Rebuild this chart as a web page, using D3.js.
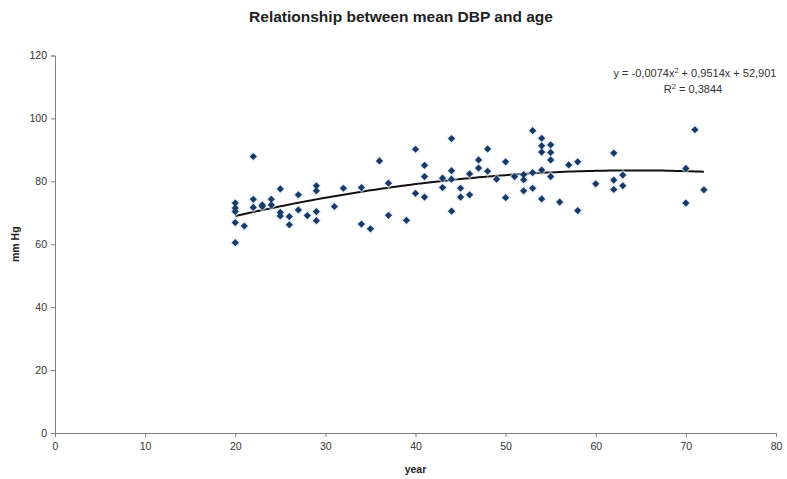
<!DOCTYPE html>
<html>
<head>
<meta charset="utf-8">
<script src="https://cdn.jsdelivr.net/npm/d3@7"></script>
<style>
  html, body { margin: 0; padding: 0; background: #fff; }
  svg { display: block; font-family: "Liberation Sans", Arial, sans-serif; }
</style>
</head>
<body>
<svg id="chart" width="787" height="479"></svg>
<script>
// Mean diastolic blood pressure (mm Hg) by age (years)
const ages = [
  20, 20, 20, 20, 20, 21, 22, 22, 22, 23, 23, 24, 24, 25, 25, 25, 26, 26, 27, 27,
  28, 29, 29, 29, 29, 31, 32, 34, 34, 35, 36, 37, 37, 39, 40, 40, 41, 41, 41, 43,
  43, 44, 44, 44, 44, 45, 45, 46, 46, 47, 47, 48, 48, 49, 50, 50, 51, 52, 52, 52,
  53, 53, 53, 54, 54, 54, 54, 54, 55, 55, 55, 55, 56, 57, 58, 58, 60, 62, 62, 62,
  63, 63, 70, 70, 71, 72
];
const dbp = [
  73.1, 71.5, 70.4, 66.9, 60.5, 65.8, 87.9, 74.3, 71.7, 72.5, 72.0, 74.3, 72.5, 77.6, 70.1, 69.0, 68.8, 66.2, 75.7, 70.9,
  69.1, 78.6, 77.0, 70.4, 67.5, 72.0, 77.8, 78.0, 66.4, 64.9, 86.5, 79.4, 69.2, 67.6, 90.2, 76.2, 85.1, 81.5, 75.0, 81.0,
  78.0, 93.6, 83.4, 80.7, 70.5, 77.8, 75.0, 82.4, 75.7, 86.8, 84.2, 90.3, 83.2, 80.7, 86.2, 74.8, 81.5, 82.1, 80.5, 77.0,
  96.1, 82.8, 77.8, 93.7, 91.3, 89.3, 83.6, 74.4, 91.6, 89.2, 86.8, 81.5, 73.4, 85.2, 86.2, 70.7, 79.2, 89.0, 80.4, 77.4,
  82.0, 78.6, 84.1, 73.1, 96.4, 77.3
];

// Polynomial (order 2) trendline coefficients
const trendCoef = { a: -0.0074, b: 0.9514, c: 52.901 };
const trendRange = [20, 72];
// Label pieces: [text, isSuperscript]
const equationParts = [["y = -0,0074x", false], ["2", true], [" + 0,9514x + 52,901", false]];
const r2Parts = [["R", false], ["2", true], [" = 0,3844", false]];

const xTicks = [0, 10, 20, 30, 40, 50, 60, 70, 80];
const yTicks = [0, 20, 40, 60, 80, 100, 120];

const title = "Relationship between mean DBP and age";
const xTitle = "year";
const yTitle = "mm Hg";

const svg = d3.select("#chart");
const x = d3.scaleLinear().domain([0, 80]).range([55, 776]);
const y = d3.scaleLinear().domain([0, 120]).range([433, 55.5]);

const axisColor = "#7f7f7f";
const textColor = "#333";

// Title
svg.append("text")
  .attr("x", 401).attr("y", 22)
  .attr("text-anchor", "middle")
  .attr("font-size", 15.5).attr("font-weight", "bold")
  .attr("fill", "#222")
  .text(title);

// Y axis
const yAxis = svg.append("g")
  .attr("transform", `translate(${x(0)},0)`)
  .call(d3.axisLeft(y).tickValues(yTicks).tickSize(4).tickPadding(4));
// X axis
const xAxis = svg.append("g")
  .attr("transform", `translate(0,${y(0)})`)
  .call(d3.axisBottom(x).tickValues(xTicks).tickSize(4).tickPadding(6));

[yAxis, xAxis].forEach(g => {
  g.select(".domain").attr("stroke", axisColor).attr("stroke-width", 1);
  g.selectAll(".tick line").attr("stroke", axisColor);
  g.selectAll(".tick text")
    .attr("fill", textColor)
    .attr("font-size", 10.5)
    .attr("font-family", "\"Liberation Sans\", Arial, sans-serif");
});

// Axis titles
svg.append("text")
  .attr("x", x(40)).attr("y", 473)
  .attr("text-anchor", "middle")
  .attr("font-size", 10.5).attr("font-weight", "bold").attr("fill", "#222")
  .text(xTitle);
svg.append("text")
  .attr("transform", `translate(19,${y(60)}) rotate(-90)`)
  .attr("text-anchor", "middle")
  .attr("font-size", 10.5).attr("font-weight", "bold").attr("fill", "#222")
  .text(yTitle);

// Trendline
const trendX = d3.range(trendRange[0], trendRange[1] + 0.001, 0.5);
const line = d3.line()
  .x(d => x(d))
  .y(d => y(trendCoef.a * d * d + trendCoef.b * d + trendCoef.c))
  .curve(d3.curveMonotoneX);
svg.append("path")
  .datum(trendX)
  .attr("d", line)
  .attr("fill", "none")
  .attr("stroke", "#111")
  .attr("stroke-width", 2);

// Data points: square diamond markers with a pale halo
const pts = svg.append("g");
const halo = d3.symbol().type(d3.symbolSquare).size(64);
const marker = d3.symbol().type(d3.symbolSquare).size(26);
ages.forEach((a, i) => {
  pts.append("path")
    .attr("d", halo())
    .attr("transform", `translate(${x(a)},${y(dbp[i])}) rotate(45)`)
    .attr("fill", "#dbe8f4").attr("opacity", 0.55);
});
ages.forEach((a, i) => {
  pts.append("path")
    .attr("d", marker())
    .attr("transform", `translate(${x(a)},${y(dbp[i])}) rotate(45)`)
    .attr("fill", "#173a68");
});

// Trendline equation and R²
function richLabel(parts, cx, cy) {
  const t = svg.append("text")
    .attr("x", cx).attr("y", cy)
    .attr("text-anchor", "middle")
    .attr("font-size", 11).attr("fill", textColor);
  parts.forEach(([s, sup]) => {
    const sp = t.append("tspan").text(s);
    if (sup) sp.attr("font-size", 7.5).attr("baseline-shift", "super");
  });
}
richLabel(equationParts, 695, 77);
richLabel(r2Parts, 693, 93);
</script>
</body>
</html>
